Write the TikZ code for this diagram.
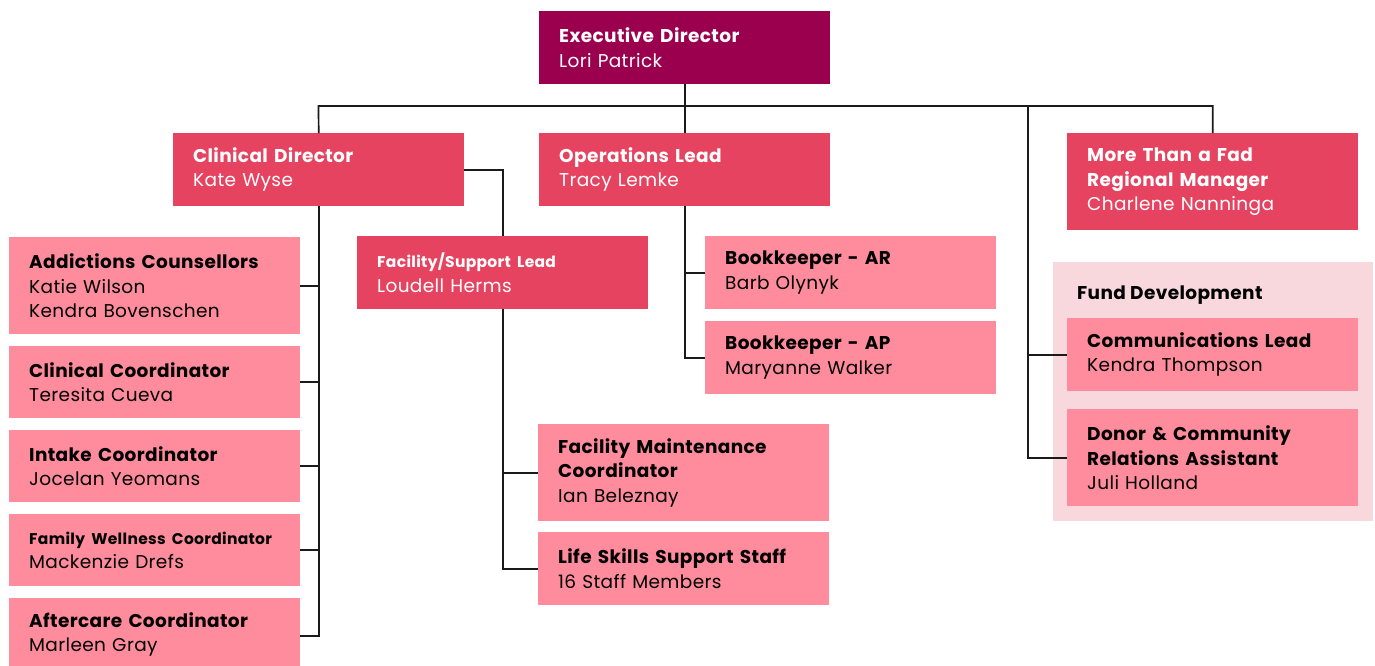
\documentclass[tikz,border=0pt]{standalone}
\usepackage{fontspec}
\setmainfont{Poppins}[LetterSpace=2]
\definecolor{execc}{HTML}{9B004F}
\definecolor{leadc}{HTML}{E64360}
\definecolor{staffc}{HTML}{FF8C9C}
\definecolor{fundc}{HTML}{F9D8DD}
\definecolor{linec}{HTML}{1A1A1A}
\newcommand{\nfs}{\fontsize{18.5}{24.5}\selectfont}
\newcommand{\sfs}{\fontsize{15.5}{24.5}\selectfont}
\tikzset{
  basebox/.style={anchor=north west, rectangle, text width=251pt, inner xsep=20pt, inner ysep=0pt, align=left, font=\nfs},
  execbox/.style={basebox, fill=execc, text=white, minimum height=73pt},
  leadbox/.style={basebox, fill=leadc, text=white, minimum height=73pt},
  staffbox/.style={basebox, fill=staffc, text=black, minimum height=73pt},
  tall/.style={minimum height=97pt},
  conn/.style={draw=linec, line width=1.7pt}
}
\begin{document}
\begin{tikzpicture}[x=1pt,y=-1pt]
\useasboundingbox (0,0) rectangle (1375,665);
% fund development background
\fill[fundc] (1053,262) rectangle (1373,521);
\node[anchor=base west, inner sep=0pt, font=\nfs\bfseries] (fundt) at (1077,299) {Fund Development};

\node[execbox] (exec) at (539,11) {\textbf{Executive Director}\\Lori Patrick};
\node[leadbox] (cd) at (173,133) {\textbf{Clinical Director}\\Kate Wyse};
\node[leadbox] (ops) at (539,133) {\textbf{Operations Lead}\\Tracy Lemke};
\node[leadbox, tall] (mtf) at (1067,133) {\textbf{More Than a Fad}\\\textbf{Regional Manager}\\Charlene Nanninga};
\node[leadbox] (fac) at (357,236) {{\sfs\textbf{Facility/Support Lead}}\\Loudell Herms};

\node[staffbox] (bar) at (705,236) {\textbf{Bookkeeper - AR}\\Barb Olynyk};
\node[staffbox] (bap) at (705,321) {\textbf{Bookkeeper - AP}\\Maryanne Walker};

\node[staffbox, tall] (add) at (9,237) {\textbf{Addictions Counsellors}\\Katie Wilson\\Kendra Bovenschen};
\node[staffbox, minimum height=72pt] (cc) at (9,346) {\textbf{Clinical Coordinator}\\Teresita Cueva};
\node[staffbox, minimum height=72pt] (ic) at (9,430) {\textbf{Intake Coordinator}\\Jocelan Yeomans};
\node[staffbox, minimum height=72pt] (fw) at (9,514) {{\sfs\textbf{Family Wellness Coordinator}}\\Mackenzie Drefs};
\node[staffbox] (ac) at (9,598) {\textbf{Aftercare Coordinator}\\Marleen Gray};

\node[staffbox, tall] (fm) at (538,424) {\textbf{Facility Maintenance}\\\textbf{Coordinator}\\Ian Beleznay};
\node[staffbox] (ls) at (538,532) {\textbf{Life Skills Support Staff}\\16 Staff Members};

\node[staffbox] (comm) at (1067,318) {\textbf{Communications Lead}\\Kendra Thompson};
\node[staffbox, tall] (donor) at (1067,409) {\textbf{Donor \& Community}\\\textbf{Relations Assistant}\\Juli Holland};

% connectors
\coordinate (busL) at (318.5,106);
\coordinate (busF) at (1028,106);
\draw[conn] (exec.south) -- (ops.north);
\draw[conn] (cd.north) -- (busL) -| (mtf.north);
\draw[conn] (busF) |- (comm.west);
\draw[conn] (busF) |- (donor.west);
\draw[conn] (cd.east) -| (fac.north);
\draw[conn] (cd.south) |- (add.east);
\draw[conn] (cd.south) |- (cc.east);
\draw[conn] (cd.south) |- (ic.east);
\draw[conn] (cd.south) |- (fw.east);
\draw[conn] (cd.south) |- ([yshift=-1.5pt]ac.east);
\draw[conn] (ops.south) |- (bar.west);
\draw[conn] (ops.south) |- (bap.west);
\draw[conn] (fac.south) |- (fm.west);
\draw[conn] (fac.south) |- (ls.west);
\end{tikzpicture}
\end{document}
